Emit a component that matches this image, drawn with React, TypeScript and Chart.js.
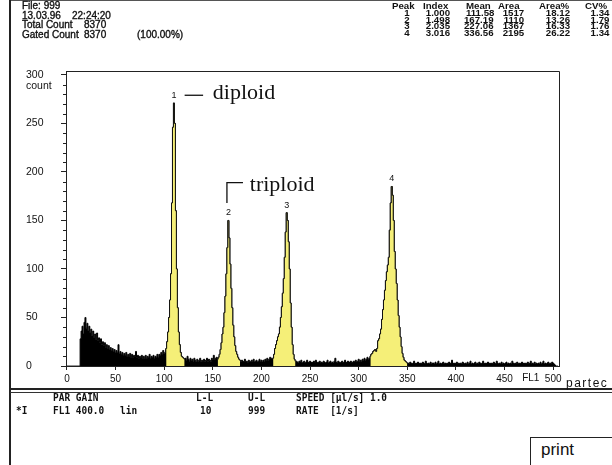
import React, { useEffect, useRef } from 'react';
import { Chart, registerables } from 'chart.js';

Chart.register(...registerables);

// ---- histogram data (one count per FL1 channel, starting at channel 0) ----
const CHANNEL_START = 0;
const COUNTS: number[] = [
  // 0-13
  0, 0, 0, 0, 0, 0, 0, 0, 0, 0, 0, 0, 0, 0,
  // 14-100 debris
  28, 36, 41, 33, 45, 50, 39, 44, 36, 41,
  34, 38, 31, 36, 29, 33, 27, 34, 26, 29,
  24, 28, 22, 25, 21, 24, 19, 22, 18, 21,
  17, 19, 16, 18, 15, 17, 14, 16, 14, 22,
  13, 15, 12, 14, 11, 13, 11, 14, 10, 12,
  10, 13, 9, 12, 9, 11, 10, 15, 9, 11,
  8, 10, 9, 11, 8, 10, 8, 11, 8, 10,
  9, 12, 8, 10, 9, 11, 8, 10, 9, 12,
  9, 12, 11, 14, 12, 16, 13,
  // 101-121 peak 1
  14, 18, 25, 35, 50, 68, 95, 168, 246, 271, 250, 160, 100, 60, 35, 22, 14, 10, 9, 8, 7,
  // 122-154
  8, 6, 10, 7, 5, 8, 6, 7, 5, 8, 6, 4, 7, 5, 6, 8, 5, 6, 4, 7, 5, 6, 8, 5, 7, 6, 5, 8, 7, 11, 7, 8, 9,
  // 155-178 peak 2
  7, 9, 12, 17, 24, 33, 40, 55, 72, 95, 122, 150, 132, 105, 80, 60, 42, 30, 21, 15, 12, 9, 7, 6,
  // 179-211
  5, 6, 4, 5, 7, 4, 5, 3, 6, 5, 4, 6, 5, 7, 4, 5, 6, 4, 5, 7, 5, 6, 4, 6, 5, 7, 6, 8, 6, 7, 9, 8, 8,
  // 212-235 peak 3
  8, 12, 18, 22, 26, 30, 33, 40, 50, 61, 75, 90, 112, 138, 158, 150, 128, 100, 65, 40, 22, 12, 7, 5,
  // 236-311
  5, 4, 3, 5, 4, 6, 3, 4, 5, 3,
  4, 6, 4, 3, 5, 4, 3, 4, 5, 3,
  6, 4, 3, 4, 5, 3, 4, 3, 5, 4,
  3, 4, 6, 3, 4, 5, 3, 4, 3, 5,
  8, 4, 3, 5, 4, 3, 4, 5, 3, 4,
  6, 4, 3, 5, 4, 4, 5, 3, 4, 5,
  4, 6, 4, 5, 7, 5, 6, 5, 7, 6,
  8, 6, 7, 9, 7, 8,
  // 312-350 peak 4
  10, 12, 13, 15, 16, 17, 15, 18, 26, 28,
  33, 38, 48, 58, 68, 78, 88, 97, 104, 112,
  140, 168, 185, 176, 150, 118, 100, 85, 68, 52,
  40, 30, 20, 13, 9, 6, 5, 4, 3,
  // 351-500
  3, 2, 4, 3, 2, 3, 5, 2, 3, 2,
  4, 3, 2, 3, 2, 4, 3, 2, 5, 3,
  2, 3, 2, 4, 2, 3, 3, 2, 4, 2,
  3, 5, 2, 3, 2, 3, 4, 2, 3, 2,
  3, 2, 4, 3, 2, 6, 3, 2, 3, 2,
  4, 2, 3, 2, 3, 2, 4, 3, 2, 3,
  2, 4, 2, 3, 5, 2, 3, 2, 3, 4,
  2, 3, 2, 4, 3, 2, 3, 5, 2, 3,
  2, 3, 4, 2, 3, 2, 3, 2, 4, 3,
  2, 5, 3, 2, 3, 2, 4, 2, 3, 2,
  3, 4, 2, 3, 2, 3, 2, 5, 3, 2,
  3, 2, 4, 2, 3, 2, 3, 4, 2, 3,
  2, 3, 2, 4, 2, 3, 5, 2, 3, 2,
  4, 2, 3, 2, 3, 2, 4, 2, 3, 5,
  2, 3, 2, 3, 4, 2, 3, 2, 4, 3,
  // 501-505
  2, 1, 0, 0, 0,
];

// gated regions (channel ranges) of the four peaks
const GATES: [number, number][] = [[102, 121], [155, 178], [212, 235], [312, 350]];
const PEAK_NAMES = ['1', '2', '3', '4'];

const X_TICKS = [0, 50, 100, 150, 200, 250, 300, 350, 400, 450, 500];
const Y_TICKS = [0, 50, 100, 150, 200, 250, 300];
const Y_MINOR_TICKS = [10, 20, 30, 40, 60, 70, 80, 90, 110, 120, 130, 140, 160, 170, 180, 190, 210, 220, 230, 240, 260, 270, 280, 290];

// results table
const TABLE_HEAD = ['Peak', 'Index', 'Mean', 'Area', 'Area%', 'CV%'];
const PEAK_INDEX = ['1.000', '1.498', '2.035', '3.016'];
const PEAK_MEAN = ['111.58', '167.19', '227.06', '336.56'];
const PEAK_AREA = ['1517', '1110', '1367', '2195'];
const PEAK_AREA_PCT = ['18.12', '13.26', '16.33', '26.22'];
const PEAK_CV = ['1.34', '1.79', '1.76', '1.34'];

// annotations (in data units)
const DIPLOID = { lineFrom: 121, lineTo: 140, at: 279, textX: 150, text: 'diploid' };
const TRIPLOID = { x: 164.5, top: 189, bottom: 168, lineTo: 181, textX: 188, text: 'triploid' };
const FL1_AT = 477;

const SANS = '"Liberation Sans", Arial, sans-serif';
const SERIF = '"Liberation Serif", "Times New Roman", serif';
const MONO = '"DejaVu Sans Mono", monospace';
const YELLOW = '#f5ef78';

const overlayPlugin = {
  id: 'overlay',
  afterDatasetsDraw(chart: any) {
    const { ctx, chartArea: a, scales } = chart;
    const x = scales.x;
    const y = scales.y;
    ctx.save();
    ctx.strokeStyle = '#222';
    ctx.lineWidth = 1;
    // frame top + right
    ctx.beginPath();
    ctx.moveTo(a.left, Math.round(a.top) + 0.5);
    ctx.lineTo(Math.round(a.right) + 0.5, Math.round(a.top) + 0.5);
    ctx.lineTo(Math.round(a.right) + 0.5, a.bottom);
    ctx.stroke();
    // minor y ticks
    ctx.beginPath();
    Y_MINOR_TICKS.forEach((v) => {
      const py = Math.round(y.getPixelForValue(v)) + 0.5;
      ctx.moveTo(a.left - 3, py);
      ctx.lineTo(a.left, py);
    });
    ctx.stroke();

    // "count" axis title under 300
    ctx.fillStyle = '#111';
    ctx.font = `10.5px ${SANS}`;
    ctx.textAlign = 'left';
    ctx.textBaseline = 'middle';
    ctx.fillText('count', y.left, y.getPixelForValue(300) + 11);

    // FL1 label among x ticks
    ctx.textAlign = 'center';
    ctx.textBaseline = 'top';
    ctx.font = `10px ${SANS}`;
    ctx.fillText('FL1', x.getPixelForValue(FL1_AT), x.top + 7);

    // peak labels
    ctx.font = `9px ${SANS}`;
    ctx.textBaseline = 'bottom';
    GATES.forEach(([lo, hi], i) => {
      let best = lo;
      for (let c = lo; c <= hi; c++) if (COUNTS[c - CHANNEL_START] > COUNTS[best - CHANNEL_START]) best = c;
      ctx.fillText(PEAK_NAMES[i], x.getPixelForValue(best), y.getPixelForValue(COUNTS[best - CHANNEL_START]) - 3);
    });

    // diploid annotation
    ctx.strokeStyle = '#111';
    ctx.lineWidth = 1.3;
    ctx.beginPath();
    ctx.moveTo(x.getPixelForValue(DIPLOID.lineFrom), y.getPixelForValue(DIPLOID.at));
    ctx.lineTo(x.getPixelForValue(DIPLOID.lineTo), y.getPixelForValue(DIPLOID.at));
    ctx.stroke();
    ctx.font = `22px ${SERIF}`;
    ctx.textAlign = 'left';
    ctx.textBaseline = 'middle';
    ctx.fillStyle = '#111';
    ctx.fillText(DIPLOID.text, x.getPixelForValue(DIPLOID.textX), y.getPixelForValue(DIPLOID.at) - 2);

    // triploid annotation
    ctx.beginPath();
    ctx.moveTo(x.getPixelForValue(TRIPLOID.x), y.getPixelForValue(TRIPLOID.bottom));
    ctx.lineTo(x.getPixelForValue(TRIPLOID.x), y.getPixelForValue(TRIPLOID.top));
    ctx.lineTo(x.getPixelForValue(TRIPLOID.lineTo), y.getPixelForValue(TRIPLOID.top));
    ctx.stroke();
    ctx.fillText(TRIPLOID.text, x.getPixelForValue(TRIPLOID.textX), y.getPixelForValue(TRIPLOID.top - 3));
    ctx.restore();
  },
};

const HEAD_STYLE: React.CSSProperties = { WebkitTextStroke: '0.35px #111', color: '#111' } as any;
const MONO_STYLE: React.CSSProperties = { transform: 'scaleX(0.9)', transformOrigin: 'left center' };

function Txt(props: { x: number; y: number; size: number; font?: string; weight?: string | number; children: React.ReactNode; style?: React.CSSProperties }) {
  const { x, y, size, font = SANS, weight = 'normal', children, style } = props;
  return (
    <div
      style={{
        position: 'absolute',
        left: x,
        top: y - size / 2,
        fontSize: size,
        lineHeight: `${size}px`,
        fontFamily: font,
        fontWeight: weight as any,
        whiteSpace: 'pre',
        color: '#111',
        ...style,
      }}
    >
      {children}
    </div>
  );
}

const TABLE_FONT = 10;

function Cell(props: { right: number; y: number; children: React.ReactNode }) {
  return (
    <div
      style={{
        position: 'absolute',
        right: 612 - props.right,
        top: props.y - TABLE_FONT / 2,
        fontSize: TABLE_FONT,
        lineHeight: `${TABLE_FONT}px`,
        fontFamily: SANS,
        fontWeight: 'bold',
        whiteSpace: 'pre',
        color: '#111',
        transform: 'scale(0.97, 0.84)',
        transformOrigin: 'right center',
      }}
    >
      {props.children}
    </div>
  );
}

export default function App() {
  const canvasRef = useRef<HTMLCanvasElement | null>(null);

  useEffect(() => {
    const canvas = canvasRef.current;
    if (!canvas) return;
    const points = COUNTS.map((c, i) => ({ x: CHANNEL_START + i, y: c }));
    const gateSets = GATES.map(([lo, hi]) => points.filter((p) => p.x >= lo && p.x <= hi));
    const chart = new Chart(canvas, {
      type: 'line',
      data: {
        datasets: [
          ...gateSets.map((d) => ({
            data: d,
            borderColor: '#111',
            backgroundColor: YELLOW,
            borderWidth: 1,
            fill: 'origin',
            stepped: 'middle' as const,
            pointRadius: 0,
            order: 1,
          })),
          {
            data: points,
            borderColor: '#000',
            backgroundColor: '#000',
            borderWidth: 1,
            fill: 'origin',
            stepped: 'middle' as const,
            pointRadius: 0,
            order: 2,
          },
        ],
      } as any,
      options: {
        animation: false,
        responsive: false,
        events: [],
        layout: { padding: { left: 26, top: 71, right: 53, bottom: 76 } },
        plugins: { legend: { display: false }, tooltip: { enabled: false } },
        scales: {
          x: {
            type: 'linear',
            min: -1,
            max: 506,
            afterBuildTicks: (s: any) => {
              s.ticks = X_TICKS.map((v) => ({ value: v }));
            },
            afterFit: (s: any) => {
              s.height = 23;
            },
            grid: { drawOnChartArea: false, drawTicks: true, tickLength: 4, color: '#222' },
            border: { display: true, color: '#222', width: 1 },
            ticks: { padding: 3, color: '#111', font: { family: SANS, size: 10 }, maxRotation: 0, autoSkip: false },
          },
          y: {
            type: 'linear',
            min: 0,
            max: 304,
            afterBuildTicks: (s: any) => {
              s.ticks = Y_TICKS.map((v) => ({ value: v }));
            },
            afterFit: (s: any) => {
              s.width = 40;
            },
            grid: { drawOnChartArea: false, drawTicks: true, tickLength: 5, color: '#222' },
            border: { display: true, color: '#222', width: 1 },
            ticks: { crossAlign: 'far', padding: 4, color: '#111', font: { family: SANS, size: 10.5 }, autoSkip: false },
          },
        },
      } as any,
      plugins: [overlayPlugin],
    });
    return () => chart.destroy();
  }, []);

  const headY = 6;
  const rowsY = [13, 19.7, 26.4, 33];
  const colRights = [410, 450, 494, 524, 570, 609];
  const headLefts = [392, 423, 466, 498, 539, 585];
  const monoSize = 10.5;
  const hs = 10;

  return (
    <div style={{ position: 'fixed', left: 0, top: 0, width: 612, height: 465, background: '#fff', overflow: 'hidden' }}>
      <canvas ref={canvasRef} width={612} height={465} style={{ position: 'absolute', left: 0, top: 0, width: 612, height: 465 }} />
      {/* frame lines */}
      <div style={{ position: 'absolute', left: 10, top: 0, width: 602, height: 1, background: '#555' }} />
      <div style={{ position: 'absolute', left: 9, top: 0, width: 2, height: 465, background: '#222' }} />
      <div style={{ position: 'absolute', left: 10, top: 388, width: 602, height: 2, background: '#222' }} />
      <div style={{ position: 'absolute', left: 10, top: 392, width: 602, height: 1, background: '#333' }} />

      {/* header left */}
      <Txt x={22} y={6} size={hs} style={HEAD_STYLE}>File: 999</Txt>
      <Txt x={22} y={15.5} size={hs} style={HEAD_STYLE}>13.03.96</Txt>
      <Txt x={72} y={15.5} size={hs} style={HEAD_STYLE}>22:24:20</Txt>
      <Txt x={22} y={25} size={hs} style={HEAD_STYLE}>Total Count</Txt>
      <Txt x={84} y={25} size={hs} style={HEAD_STYLE}>8370</Txt>
      <Txt x={22} y={34.5} size={hs} style={HEAD_STYLE}>Gated Count</Txt>
      <Txt x={84} y={34.5} size={hs} style={HEAD_STYLE}>8370</Txt>
      <Txt x={137} y={34.5} size={hs} style={HEAD_STYLE}>(100.00%)</Txt>

      {/* results table */}
      {TABLE_HEAD.map((h, i) => (
        <div
          key={h}
          style={{
            position: 'absolute',
            left: headLefts[i],
            top: headY - TABLE_FONT / 2,
            fontSize: TABLE_FONT,
            lineHeight: `${TABLE_FONT}px`,
            fontFamily: SANS,
            fontWeight: 'bold',
            whiteSpace: 'pre',
            color: '#111',
            transform: 'scale(0.97, 0.9)',
            transformOrigin: 'left center',
          }}
        >
          {h}
        </div>
      ))}
      {PEAK_NAMES.map((p, r) => (
        <React.Fragment key={p}>
          <Cell right={colRights[0]} y={rowsY[r]}>{p}</Cell>
          <Cell right={colRights[1]} y={rowsY[r]}>{PEAK_INDEX[r]}</Cell>
          <Cell right={colRights[2]} y={rowsY[r]}>{PEAK_MEAN[r]}</Cell>
          <Cell right={colRights[3]} y={rowsY[r]}>{PEAK_AREA[r]}</Cell>
          <Cell right={colRights[4]} y={rowsY[r]}>{PEAK_AREA_PCT[r]}</Cell>
          <Cell right={colRights[5]} y={rowsY[r]}>{PEAK_CV[r]}</Cell>
        </React.Fragment>
      ))}

      {/* brand */}
      <Txt x={566} y={383} size={12} style={{ letterSpacing: 1.5 }}>partec</Txt>

      {/* bottom panel */}
      <Txt x={53} y={397} size={monoSize} font={MONO} weight="bold" style={MONO_STYLE}>PAR GAIN</Txt>
      <Txt x={196} y={397} size={monoSize} font={MONO} weight="bold" style={MONO_STYLE}>L-L</Txt>
      <Txt x={248} y={397} size={monoSize} font={MONO} weight="bold" style={MONO_STYLE}>U-L</Txt>
      <Txt x={296} y={397} size={monoSize} font={MONO} weight="bold" style={MONO_STYLE}>{'SPEED [µl/s] 1.0'}</Txt>
      <Txt x={16} y={410} size={monoSize} font={MONO} weight="bold" style={MONO_STYLE}>*I</Txt>
      <Txt x={53} y={410} size={monoSize} font={MONO} weight="bold" style={MONO_STYLE}>FL1 400.0</Txt>
      <Txt x={120} y={410} size={monoSize} font={MONO} weight="bold" style={MONO_STYLE}>lin</Txt>
      <Txt x={200} y={410} size={monoSize} font={MONO} weight="bold" style={MONO_STYLE}>10</Txt>
      <Txt x={248} y={410} size={monoSize} font={MONO} weight="bold" style={MONO_STYLE}>999</Txt>
      <Txt x={296} y={410} size={monoSize} font={MONO} weight="bold" style={MONO_STYLE}>{'RATE  [1/s]'}</Txt>

      {/* print button */}
      <div style={{ position: 'absolute', left: 530, top: 437, width: 90, height: 40, border: '1px solid #222', background: '#fff' }} />
      <Txt x={541} y={449} size={17}>print</Txt>
    </div>
  );
}
